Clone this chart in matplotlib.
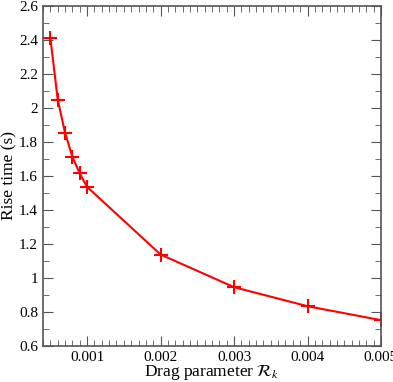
import numpy as np
from matplotlib import pyplot as plt
from matplotlib.ticker import MultipleLocator

# drag parameter vs rise time
drag = [0.0005, 0.0006, 0.0007, 0.0008, 0.0009, 0.001, 0.002, 0.003, 0.004, 0.005]
rise = [2.413, 2.05, 1.854, 1.713, 1.615, 1.536, 1.138, 0.946, 0.834, 0.752]

x_ticks = [0.001, 0.002, 0.003, 0.004, 0.005]
x_labels = ["0.001", "0.002", "0.003", "0.004", "0.005"]
y_ticks = [0.6, 0.8, 1.0, 1.2, 1.4, 1.6, 1.8, 2.0, 2.2, 2.4, 2.6]
y_labels = ["0.6", "0.8", "1", "1.2", "1.4", "1.6", "1.8", "2", "2.2", "2.4", "2.6"]

plt.rcParams['font.family'] = ['Liberation Serif', 'DejaVu Serif']
plt.rcParams['mathtext.fontset'] = 'stix'

fig = plt.figure(figsize=(3.93, 3.82), dpi=100)
ax = fig.add_axes([43/393, 1-346/382, 338/393, 340/382])

ax.plot(drag, rise, color="red", lw=1.5, marker="+", ms=10, mew=1.5)

ax.set_xlim(0.0004, 0.005)
ax.set_ylim(0.6, 2.6)
ax.set_xticks(x_ticks, x_labels)
ax.set_yticks(y_ticks, y_labels)
ax.xaxis.set_minor_locator(MultipleLocator(0.0001))
ax.yaxis.set_minor_locator(MultipleLocator(0.1))
ax.tick_params(which="both", direction="in", top=True, right=True, labelsize=11, color="#555555")
ax.tick_params(which="major", length=7)
ax.tick_params(which="minor", length=4)
for s in ax.spines.values():
    s.set_color("#555555")
    s.set_linewidth(1.2)

ax.set_xlabel(r"Drag parameter $\mathcal{R}_k$", fontsize=12.5, labelpad=-1)
ax.set_ylabel("Rise time (s)", fontsize=12.5, labelpad=1)

fig.savefig("out.png", dpi=100)
